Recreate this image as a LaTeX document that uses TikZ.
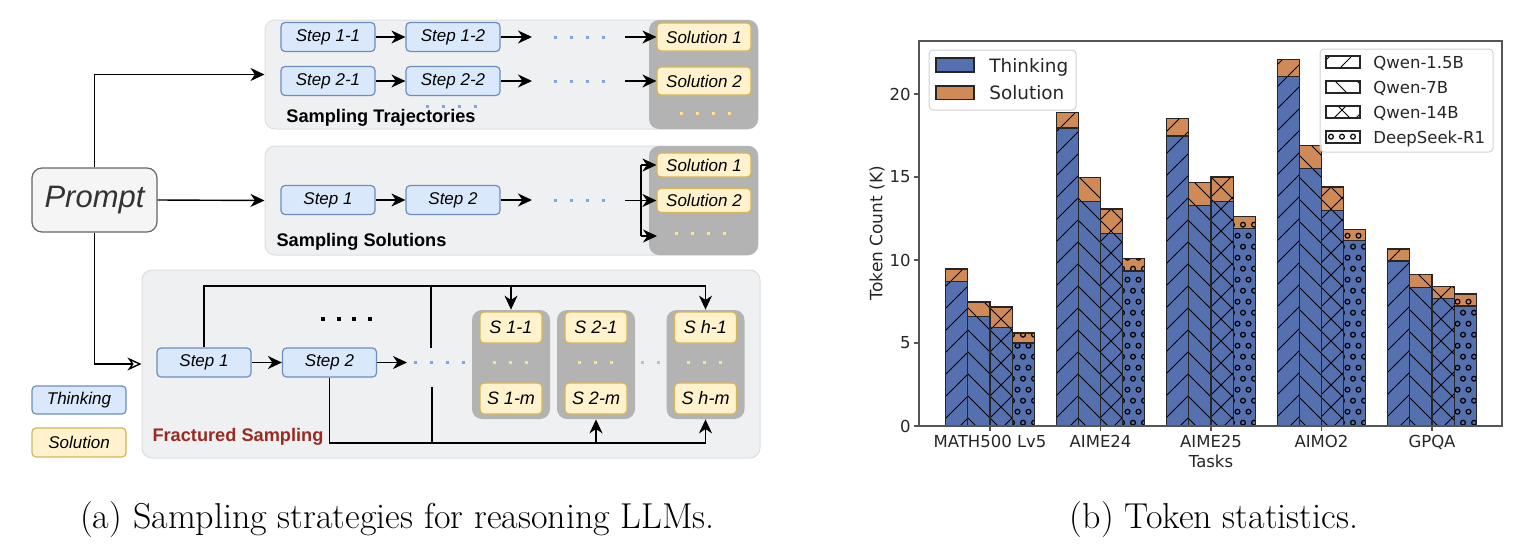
\documentclass[tikz,border=0pt]{standalone}
\usepackage{fontspec}
\newfontfamily\arialf{Liberation Sans}
\newfontfamily\dejavu{DejaVu Sans}
\usetikzlibrary{arrows.meta,positioning}

\definecolor{panelgray}{HTML}{EFF0F2}
\definecolor{panelline}{HTML}{DDDEE0}
\definecolor{groupgray}{HTML}{B3B3B3}
\definecolor{thinkfill}{HTML}{DAE8FC}
\definecolor{thinkline}{HTML}{6C8EBF}
\definecolor{solfill}{HTML}{FFF2CC}
\definecolor{solline}{HTML}{D6B656}
\definecolor{promptfill}{HTML}{F5F5F5}
\definecolor{promptline}{HTML}{666666}
\definecolor{dotblue}{HTML}{7EA6E0}
\definecolor{dotyellow}{HTML}{FFE28A}
\definecolor{fracred}{HTML}{9A2A22}
\definecolor{barblue}{RGB}{85,112,174}
\definecolor{barorange}{RGB}{207,138,87}
\definecolor{charttext}{RGB}{38,38,38}
\definecolor{spine}{RGB}{85,85,85}

\tikzset{
  arr/.style={-{Stealth[length=7pt,width=6.5pt,inset=2.2pt]}, line width=0.7pt},
  openarr/.style={-{Stealth[open,length=7pt,width=6.5pt,inset=2.2pt]}, line width=0.7pt},
  thinkbox/.style={draw=thinkline, fill=thinkfill, rounded corners=2pt, line width=0.6pt,
    minimum width=47pt, minimum height=14.5pt, inner sep=0pt,
    font=\arialf\itshape\fontsize{8.5}{10}\selectfont},
  solbox/.style={thinkbox, draw=solline, fill=solfill},
  sbox/.style={solbox, minimum width=31pt, minimum height=15.5pt,
    font=\arialf\itshape\fontsize{9}{11}\selectfont},
  panelbox/.style={draw=panelline, fill=panelgray, rounded corners=5pt, line width=0.5pt, inner sep=0pt},
  solgroup/.style={fill=groupgray, rounded corners=5pt, inner sep=0pt},
  dotrow/.style={line width=1.5pt, dash pattern=on 1.5pt off 6.5pt},
  paneltitle/.style={font=\arialf\bfseries\fontsize{9.1}{11}\selectfont},
  hatchline/.style={line width=0.45pt, black},
  baredge/.style={line width=0.55pt, black!85},
  ticklabel/.style={font=\dejavu\fontsize{8.25}{10}\selectfont, text=charttext, inner sep=0pt},
  legendframe/.style={draw=black!18, fill=white, fill opacity=0.8, rounded corners=2pt, line width=0.5pt}
}

\newcommand{\hatchne}{\foreach \hs in {990,1012,...,1914} \draw[hatchline] (\hs-440,440) -- (\hs-20,20);}
\newcommand{\hatchnw}{\foreach \hd in {506,528,...,1430} \draw[hatchline] (\hd+20,20) -- (\hd+440,440);}
\newcommand{\hatchoo}[1]{%
  \pgfmathtruncatemacro\hoc{floor(#1/11)}%
  \foreach \hj in {0,...,36}{%
    \foreach \hi in {-1,...,4}{%
      \pgfmathsetmacro\hox{11*(\hoc+\hi)+5.5*mod(\hj,2)}%
      \pgfmathsetmacro\hoy{422.7-11*\hj}%
      \draw[hatchline, line width=0.6pt] (\hox,\hoy) circle[radius=1.2pt];
    }}}

\begin{document}
\begin{tikzpicture}[x=0.5pt,y=-0.5pt]
\useasboundingbox (0,0) rectangle (1525,557);

% (a) sampling strategies
\node[draw=promptline, fill=promptfill, rounded corners=5pt, line width=0.6pt,
  minimum width=62.5pt, minimum height=32pt, text=black!80,
  font=\arialf\itshape\fontsize{15.5}{18}\selectfont] (prompt) at (94.5,200) {Prompt};

\node[panelbox, minimum width=246.5pt, minimum height=54.5pt] (trajp) at (511.5,74.5) {};
\node[solgroup, minimum width=54.5pt, minimum height=54.5pt] (trajg) at (703.5,74.5) {};
\node[panelbox, minimum width=246.5pt, minimum height=54.5pt] (solp) at (511.5,200.5) {};
\node[solgroup, minimum width=54.5pt, minimum height=54.5pt] (solg) at (703.5,200.5) {};
\node[panelbox, minimum width=309pt, minimum height=94pt] (fracp) at (451,364) {};

\node[thinkbox] (s11) at (328,37) {Step 1-1};
\node[thinkbox] (s12) at (453,37) {Step 1-2};
\node[thinkbox] (s21) at (328,81) {Step 2-1};
\node[thinkbox] (s22) at (453,81) {Step 2-2};
\node[solbox, minimum height=14pt] (t1) at (704,37) {Solution 1};
\node[solbox, minimum height=14pt] (t2) at (704,81) {Solution 2};
\coordinate (e1) at (532,37);
\coordinate (b1) at (625,37);
\coordinate (e2) at (532,81);
\coordinate (b2) at (625,81);

\draw[arr] (s11) -- (s12);
\draw[arr] (s12) -- (e1);
\draw[arr] (b1) -- (t1);
\draw[arr] (s21) -- (s22);
\draw[arr] (s22) -- (e2);
\draw[arr] (b2) -- (t2);
\draw[dotrow, dotblue] (553.5,37) -- (605,37);
\draw[dotrow, dotblue] (553.5,81) -- (605,81);
\draw[dotrow, dotblue] (425.5,106) -- (477,106);
\draw[dotrow, dotyellow] (679.5,113) -- (731,113);
\node[paneltitle] (trajlab) at (381,118) {Sampling Trajectories};

\node[thinkbox] (p1) at (328,200) {Step 1};
\node[thinkbox] (p2) at (453,200) {Step 2};
\node[solbox, minimum height=12pt] (u1) at (704,165) {Solution 1};
\node[solbox, minimum height=12pt] (u2) at (704,200.5) {Solution 2};
\coordinate (pe) at (532,200);
\coordinate (pb) at (625,200.5);
\coordinate (fork) at (641,200.5);
\coordinate (u3) at (657,236);

\draw[arr] (p1) -- (p2);
\draw[arr] (p2) -- (pe);
\draw[arr] (pb) -- (u2);
\draw[line width=0.7pt] (fork |- u1) -- (fork |- u3);
\draw[arr] (fork |- u1) -- (u1);
\draw[arr] (fork |- u3) -- (u3);
\draw[dotrow, dotblue] (553.5,200) -- (605,200);
\draw[dotrow, dotyellow] (674.5,233) -- (726,233);
\node[paneltitle] (sollab) at (361.5,241.5) {Sampling Solutions};

\draw[arr] (prompt.north) |- (trajp.west);
\draw[arr] (prompt.east) -- (solp.west);
\draw[openarr] (prompt.south) |- (fracp.west);

\node[thinkbox] (f1) at (204,362.5) {Step 1};
\node[thinkbox] (f2) at (329.5,362.5) {Step 2};
\node[solgroup, minimum width=39pt, minimum height=54.5pt] (g1) at (511,364.5) {};
\node[solgroup, minimum width=39pt, minimum height=54.5pt] (g2) at (596,364.5) {};
\node[solgroup, minimum width=39pt, minimum height=54.5pt] (g3) at (705.5,364.5) {};
\node[sbox] (g11) at (511,327.5) {S 1-1};
\node[sbox] (g1m) at (511,398.5) {S 1-m};
\node[sbox] (g21) at (596,327.5) {S 2-1};
\node[sbox] (g2m) at (596,398.5) {S 2-m};
\node[sbox] (gh1) at (705.5,327.5) {S h-1};
\node[sbox] (ghm) at (705.5,398.5) {S h-m};
\coordinate (fe) at (407,362.5);
\coordinate (ftop) at (0,286);
\coordinate (fbot) at (0,443);
\coordinate (cutT) at (431,348);
\coordinate (cutB) at (432,387);

\draw[arr] (f1) -- (f2);
\draw[arr] (f2) -- (fe);
\draw[arr] (f1.north) -- (f1.north |- ftop) -| (g3.north);
\draw[arr] (g1.north |- ftop) -- (g1.north);
\draw[line width=0.7pt] (cutT |- ftop) -- (cutT);
\draw[arr] (f2.south) -- (f2.south |- fbot) -| (g3.south);
\draw[arr] (g2.south |- fbot) -- (g2.south);
\draw[line width=0.7pt] (cutB) -- (cutB |- fbot);
\draw[line width=2pt, dash pattern=on 2pt off 5.85pt] (321,319) -- (372,319);
\draw[dotrow, dotblue] (413.5,362.5) -- (465,362.5);
\draw[dotrow, dotyellow] (492.5,362) -- (528,362);
\draw[dotrow, dotyellow] (577.5,362) -- (613,362);
\draw[dotrow, dotyellow] (686.5,362) -- (722,362);
\draw[dotrow, black!25] (640.5,362) -- (660,362);
\node[paneltitle, text=fracred] (fraclab) at (238,436.5) {Fractured Sampling};

\node[thinkbox, minimum height=14pt] (legthink) at (79,400) {Thinking};
\node[solbox] (legsol) at (79,442.5) {Solution};

\node[font=\fontsize{18}{22}\selectfont, inner sep=0pt] (capa) at (397.5,520) {(a) Sampling strategies for reasoning LLMs.};

% (b) token statistics
\foreach \cx/\k/\tv/\sv in {990/0/8.73/9.46, 990/1/6.57/7.47, 990/2/5.96/7.17, 990/3/5.0/5.6,
  1100.5/0/17.95/18.9, 1100.5/1/13.55/14.96, 1100.5/2/11.6/13.07, 1100.5/3/9.34/10.1,
  1211/0/17.47/18.55, 1211/1/13.3/14.65, 1211/2/13.55/15.0, 1211/3/11.9/12.6,
  1321.5/0/21.05/22.1, 1321.5/1/15.5/16.9, 1321.5/2/12.98/14.4, 1321.5/3/11.2/11.86,
  1432/0/9.94/10.66, 1432/1/8.37/9.1, 1432/2/7.7/8.43, 1432/3/7.23/7.95}
{
  \pgfmathsetmacro\bl{\cx-44.2+22.1*\k}
  \pgfmathsetmacro\br{\bl+22.1}
  \pgfmathsetmacro\yt{426-16.6*\tv}
  \pgfmathsetmacro\ys{426-16.6*\sv}
  \fill[barblue] (\bl,426) rectangle (\br,\yt);
  \fill[barorange] (\bl,\yt) rectangle (\br,\ys);
  \begin{scope}
    \clip (\bl,426) rectangle (\br,\ys);
    \ifnum\k=0 \hatchne\fi
    \ifnum\k=1 \hatchnw\fi
    \ifnum\k=2 \hatchne\hatchnw\fi
    \ifnum\k=3 \hatchoo{\bl}\fi
  \end{scope}
  \draw[baredge] (\bl,426) rectangle (\br,\yt) (\bl,\yt) rectangle (\br,\ys);
}

\draw[spine, line width=0.6pt] (919,41) rectangle (1502,426);
\foreach \v [count=\n] in {0,5,10,15,20} {
  \draw[spine, line width=0.6pt] (914,{426-16.6*\v}) -- (919,{426-16.6*\v});
  \node[ticklabel, anchor=east] (ytick\n) at (911,{426-16.6*\v}) {\v};
}
\foreach \cx/\lab [count=\n] in {990/MATH500 Lv5, 1100.5/AIME24, 1211/AIME25, 1321.5/AIMO2, 1432/GPQA} {
  \draw[spine, line width=0.6pt] (\cx,426) -- (\cx,431);
  \node[ticklabel, anchor=base] (xtick\n) at (\cx,447) {\lab};
}
\node[ticklabel, anchor=base] (xlab) at (1211,467.5) {Tasks};
\node[ticklabel, rotate=90, font=\dejavu\fontsize{8.5}{10}\selectfont] (ylab) at (877,233) {Token Count (K)};

\draw[legendframe] (929,50) rectangle (1076,110);
\draw[baredge, fill=barblue] (936,58) rectangle (974,72);
\draw[baredge, fill=barorange] (936,86) rectangle (974,99.5);
\node[ticklabel, anchor=base west, font=\dejavu\fontsize{9.2}{11}\selectfont] (legthinking) at (989,72) {Thinking};
\node[ticklabel, anchor=base west, font=\dejavu\fontsize{9.2}{11}\selectfont] (legsolution) at (989,99.5) {Solution};

\draw[legendframe] (1320,49) rectangle (1493,152);
\foreach \py/\k/\lab [count=\n] in {62/0/Qwen-1.5B, 87/1/Qwen-7B, 112/2/Qwen-14B, 137/3/DeepSeek-R1} {
  \fill[white] (1326,\py-6) rectangle (1360,\py+6);
  \begin{scope}
    \clip (1326,\py-6) rectangle (1360,\py+6);
    \ifnum\k=0 \hatchne\fi
    \ifnum\k=1 \hatchnw\fi
    \ifnum\k=2 \hatchne\hatchnw\fi
    \ifnum\k=3 \hatchoo{1326}\fi
  \end{scope}
  \draw[baredge] (1326,\py-6) rectangle (1360,\py+6);
  \node[ticklabel, anchor=base west] (legmodel\n) at (1373,\py+6) {\lab};
}

\node[font=\fontsize{18}{22}\selectfont, inner sep=0pt] (capb) at (1214,520) {(b) Token statistics.};

\end{tikzpicture}
\end{document}
